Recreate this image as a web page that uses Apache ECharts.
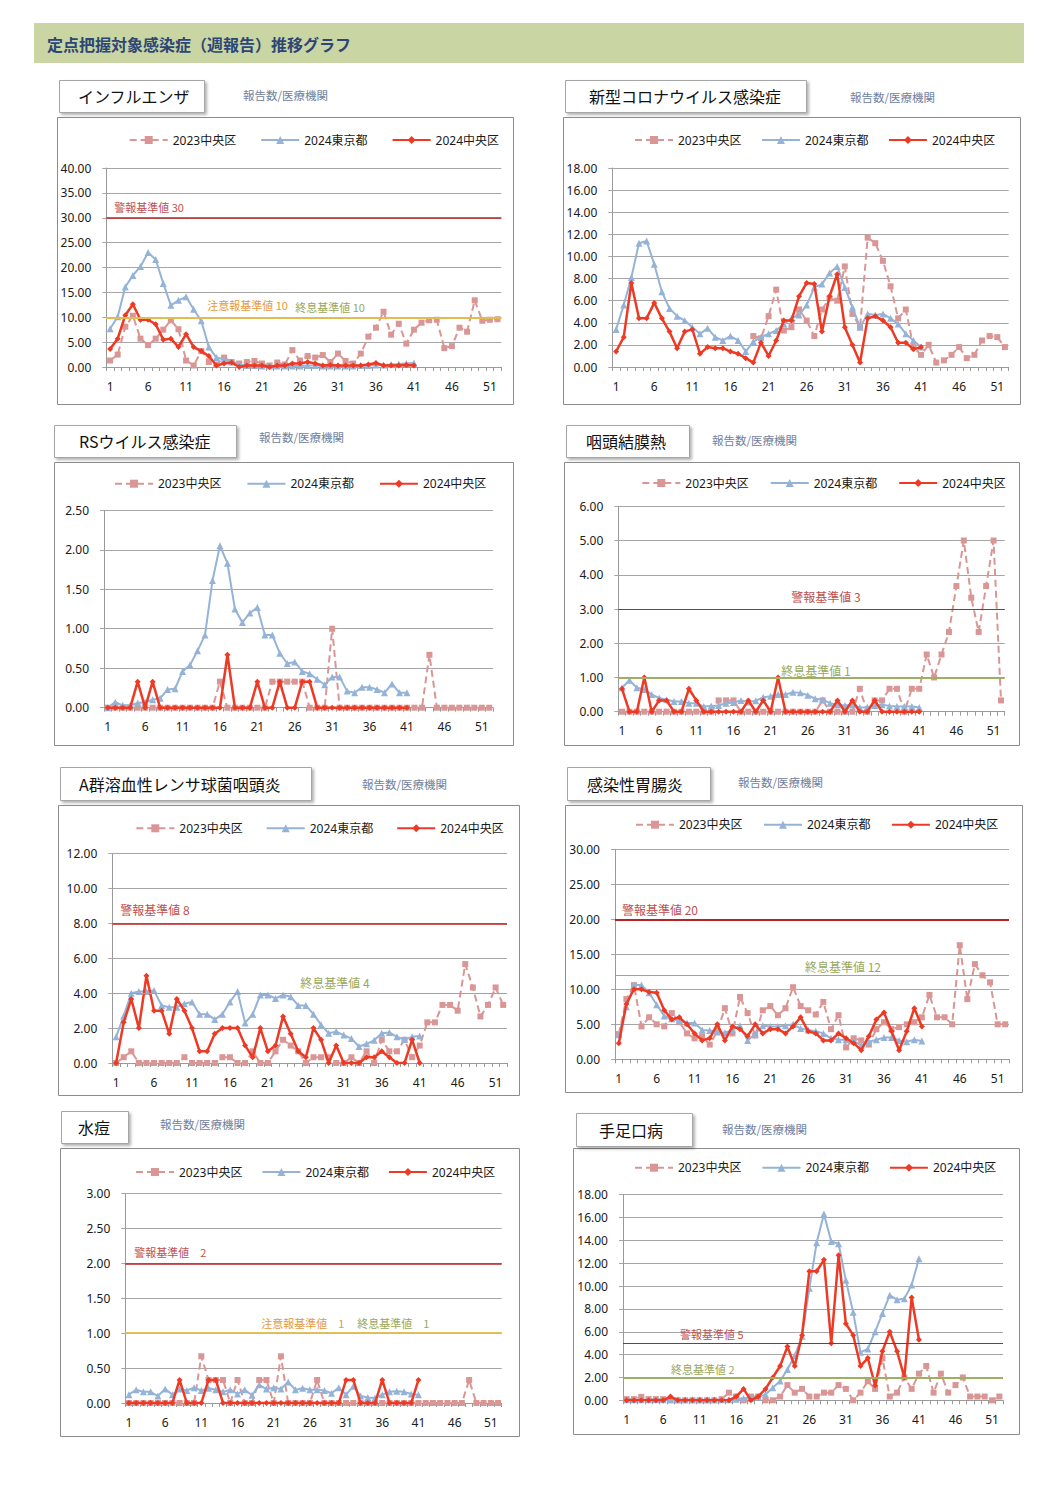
<!DOCTYPE html>
<html><head><meta charset="utf-8">
<script src="https://cdn.jsdelivr.net/npm/echarts@6/dist/echarts.min.js"></script>
<style>html,body{margin:0;padding:0;background:#fff;}#c{width:1063px;height:1498px;}</style>
</head><body><div id="c"></div>
<script>
// ---------------- DATA ----------------
const weeks = ['1','2','3','4','5','6','7','8','9','10','11','12','13','14','15','16','17','18','19','20','21','22','23','24','25','26','27','28','29','30','31','32','33','34','35','36','37','38','39','40','41','42','43','44','45','46','47','48','49','50','51','52'];
const seriesNames = ['2023中央区','2024東京都','2024中央区'];
const pageTitle = '定点把握対象感染症（週報告）推移グラフ';
const unitText = '報告数/医療機関';

// インフルエンザ
const flu2023 = [1.3,2.5,8.1,10.3,5.7,4.4,5.7,7.5,9.4,7.6,1.3,0.3,3.2,1.0,0.5,1.9,1.0,0.7,1.0,1.2,0.7,0.3,0.9,0.5,3.4,1.3,2.2,1.9,2.4,1.0,2.7,1.2,0.7,2.7,6.1,7.9,11.1,6.5,8.7,4.7,7.5,8.9,9.4,9.5,3.8,4.2,7.9,7.1,13.4,9.3,9.5,9.6];
const flu2024Tokyo = [7.7,10.1,16.1,18.4,20.2,23.0,21.6,16.8,12.4,13.4,14.1,11.6,9.3,4.0,1.9,1.5,1.0,0.5,0.3,0.3,0.2,0.2,0.2,0.2,0.2,0.2,0.3,0.3,0.2,0.2,0.2,0.2,0.2,0.3,0.3,0.4,0.4,0.5,0.6,0.7,0.8];
const flu2024Chuo = [3.6,5.7,10.4,12.6,9.5,9.5,8.6,5.5,5.7,4.0,6.6,4.0,3.2,2.2,0.3,0.7,0.9,0.0,0.3,0.3,0.3,0.0,0.3,0.3,0.7,0.7,1.0,0.7,0.3,0.4,0.3,0.3,0.3,0.3,0.5,0.8,0.3,0.3,0.3,0.4,0.3];
const fluTicks = [0,5,10,15,20,25,30,35,40];
const fluLines = [{kind:'alarm',text:'警報基準値 30',value:30},{kind:'caution',text:'注意報基準値 10',value:10},{kind:'end',text:'終息基準値 10',value:10}];

// 新型コロナウイルス感染症
const cov2023 = [null,null,null,null,null,null,null,null,null,null,null,null,null,null,null,null,null,null,2.8,2.6,4.6,7.0,3.3,3.6,5.2,4.2,2.8,5.2,6.2,6.0,9.1,4.8,3.6,11.7,11.2,9.6,7.3,4.4,5.2,1.8,1.1,2.0,0.4,0.6,1.1,1.8,0.8,1.1,2.4,2.8,2.7,1.8];
const cov2024Tokyo = [3.4,5.6,8.1,11.2,11.4,9.3,6.8,5.3,4.6,4.2,3.6,3.0,3.5,2.7,2.4,2.8,2.4,1.4,2.3,2.7,3.0,3.3,3.9,4.4,4.7,5.6,7.2,7.5,8.5,9.1,7.2,5.4,3.6,4.8,4.7,4.8,4.4,3.9,3.0,2.4,1.8];
const cov2024Chuo = [1.4,2.7,7.6,4.4,4.4,5.8,4.4,3.2,1.7,3.2,3.4,1.2,1.8,1.7,1.7,1.4,1.2,0.8,0.4,2.2,1.0,2.4,4.2,4.2,6.4,7.6,7.5,3.2,6.4,8.4,3.6,2.0,0.4,4.4,4.6,4.2,3.6,2.2,2.2,1.6,1.8];
const covTicks = [0,2,4,6,8,10,12,14,16,18];
const covLines = [];

// RSウイルス感染症
const rs2023 = [0,0,0,0,0,0,0,0,0,0,0,0,0,0,0,0.33,0,0,0,0,0,0,0.33,0.33,0.33,0.33,0.33,0,0,0,1.0,0,0,0,0,0,0,0,0,0,0,0,0,0.67,0,0,0,0,0,0,0,0];
const rs2024Tokyo = [0.0,0.07,0.03,0.03,0.06,0.07,0.1,0.12,0.23,0.24,0.46,0.54,0.72,0.92,1.61,2.05,1.83,1.25,1.08,1.2,1.27,0.92,0.92,0.69,0.56,0.58,0.46,0.43,0.36,0.29,0.39,0.39,0.21,0.19,0.26,0.26,0.23,0.19,0.3,0.19,0.19];
const rs2024Chuo = [0,0,0,0,0.33,0,0.33,0,0,0,0,0,0,0,0,0,0.67,0,0,0,0.33,0,0,0.33,0,0,0.33,0.33,0,0,0,0,0,0,0,0,0,0,0,0,0];
const rsTicks = [0,0.5,1,1.5,2,2.5];
const rsLines = [];

// 咽頭結膜熱
const pcf2023 = [0,0,0,0,0,0,0,0,0,0,0,0,0,0.33,0.33,0.33,0,0,0,0,0,0,0,0,0,0,0,0.33,0,0,0,0,0.67,0,0.33,0.33,0.67,0.67,0,0.67,0.67,1.67,1.0,1.67,2.33,3.67,5.0,3.33,2.33,3.67,5.0,0.33];
const pcf2024Tokyo = [0.7,0.92,0.7,0.65,0.5,0.4,0.35,0.3,0.3,0.25,0.25,0.15,0.17,0.18,0.25,0.27,0.33,0.28,0.32,0.42,0.45,0.5,0.5,0.57,0.55,0.48,0.38,0.35,0.25,0.2,0.18,0.2,0.12,0.13,0.18,0.2,0.17,0.15,0.15,0.15,0.12];
const pcf2024Chuo = [0.67,0,0,1.0,0,0.33,0.33,0,0,0.67,0.33,0,0,0,0,0,0,0.33,0,0.33,0,1.0,0,0,0,0,0,0,0,0.33,0,0.33,0,0,0.33,0,0,0,0,0,0];
const pcfTicks = [0,1,2,3,4,5,6];
const pcfLines = [{kind:'alarm',text:'警報基準値 3',value:3},{kind:'end',text:'終息基準値 1',value:1}];

// A群溶血性レンサ球菌咽頭炎
const gas2023 = [0,0.33,0.67,0,0,0,0,0,0,0.33,0,0,0,0,0.33,0.33,0,0,0.67,0,0,0.67,1.33,1.0,0.67,0,0.33,0.33,0.33,0,0,0.33,0,0.67,0,1.33,0.67,0.67,1.33,0.33,1.0,2.33,2.33,3.33,3.33,3.0,5.67,4.33,2.67,3.33,4.33,3.33];
const gas2024Tokyo = [1.5,2.7,4.0,4.1,4.1,4.15,3.3,3.2,3.2,3.4,3.5,2.8,2.8,2.5,2.8,3.5,4.1,2.3,2.8,3.9,3.9,3.7,3.9,3.8,3.3,3.3,2.8,2.2,1.7,1.8,1.6,1.4,0.95,1.1,1.3,1.7,1.75,1.5,1.35,1.5,1.55];
const gas2024Chuo = [0,2.33,3.67,2.0,5.0,3.0,3.0,1.67,3.67,3.0,2.0,0.67,0.67,1.67,2.0,2.0,2.0,1.0,0.33,2.0,0.67,1.0,2.67,1.67,0.67,0.33,2.0,1.33,0,1.0,0,0,0,0.33,0.33,0.67,0.33,0,0,1.33,0];
const gasTicks = [0,2,4,6,8,10,12];
const gasLines = [{kind:'alarm',text:'警報基準値 8',value:8},{kind:'end',text:'終息基準値 4',value:4}];

// 感染性胃腸炎
const ge2023 = [3.6,8.6,10.6,4.7,6.0,5.0,4.7,6.6,5.3,3.7,3.0,3.3,2.1,4.0,7.3,3.7,8.9,6.6,3.4,7.0,7.6,6.3,7.3,10.3,7.6,7.0,6.4,8.2,4.3,6.3,1.7,3.0,2.7,2.1,4.3,5.3,4.3,4.6,5.0,5.3,6.0,9.2,6.0,6.0,5.0,16.3,8.6,13.6,12.0,11.0,5.0,5.0];
const ge2024Tokyo = [3.5,7.5,10.6,10.6,9.5,7.8,6.2,5.8,5.5,5.2,5.2,4.2,4.1,3.9,3.8,4.2,4.8,2.7,3.6,4.8,4.7,4.7,4.8,5.0,4.4,4.2,4.0,3.7,3.0,2.8,2.8,2.6,2.0,2.5,2.8,3.1,3.1,2.7,2.5,2.8,2.6];
const ge2024Chuo = [2.3,7.9,10.0,10.0,9.6,9.5,7.0,5.7,6.0,5.0,3.7,2.7,3.0,5.0,2.7,4.7,4.3,3.3,5.0,3.7,4.3,4.3,3.7,4.7,6.0,4.0,3.7,2.7,2.7,3.7,3.0,2.3,1.3,3.3,5.7,6.7,4.0,1.3,4.0,7.3,4.7];
const geTicks = [0,5,10,15,20,25,30];
const geLines = [{kind:'alarm',text:'警報基準値 20',value:20},{kind:'end',text:'終息基準値 12',value:12}];

// 水痘
const vz2023 = [0,0,0,0,0,0,0,0,0,0,0.67,0.33,0.33,0.33,0,0.33,0,0,0.33,0.33,0,0.67,0,0,0,0,0.33,0,0,0,0,0,0,0,0,0,0,0,0,0,0,0,0,0,0,0,0,0.33,0,0,0,0];
const vz2024Tokyo = [0.12,0.19,0.16,0.16,0.1,0.2,0.12,0.2,0.18,0.22,0.18,0.21,0.19,0.16,0.19,0.13,0.19,0.11,0.26,0.2,0.22,0.2,0.3,0.19,0.21,0.19,0.19,0.18,0.14,0.22,0.12,0.24,0.1,0.08,0.07,0.12,0.16,0.17,0.16,0.13,0.12];
const vz2024Chuo = [0,0,0,0,0,0,0,0.33,0,0,0,0.33,0.33,0,0,0,0,0,0,0,0,0,0,0,0,0,0,0,0,0,0.33,0.33,0,0,0,0.33,0,0,0,0,0.33];
const vzTicks = [0,0.5,1,1.5,2,2.5,3];
const vzLines = [{kind:'alarm',text:'警報基準値　2',value:2},{kind:'caution',text:'注意報基準値　1',value:1},{kind:'end',text:'終息基準値　1',value:1}];

// 手足口病
const hf2023 = [0.1,0.1,0.3,0.1,0.1,0.1,0,0,0,0,0,0,0,0.1,0.67,0.33,0,0.33,0.33,0,0,0.33,1.33,0.67,1.0,0.33,0.33,0.67,0.67,1.33,1.0,0,0.67,1.67,1.0,3.67,0.33,0.67,2.0,1.0,2.33,3.0,0.67,2.33,0.67,1.33,2.0,0.33,0.33,0.33,0,0.33];
const hf2024Tokyo = [0.05,0.05,0.05,0.05,0.05,0.05,0.05,0.05,0.05,0.05,0.05,0.05,0.05,0.05,0.05,0.1,0.15,0.2,0.3,0.5,1.1,1.7,2.7,3.9,5.6,9.8,13.8,16.3,13.9,13.7,10.5,7.7,4.2,4.5,6.0,7.6,9.2,8.8,8.9,10.1,12.4];
const hf2024Chuo = [0,0,0,0,0,0,0.33,0,0,0,0,0,0,0,0,0.33,1.0,0,0.33,1.0,2.0,3.0,4.7,3.0,5.7,11.3,11.3,12.3,5.0,12.7,6.7,5.7,3.0,3.7,1.3,4.3,6.0,4.3,2.0,9.0,5.3];
const hfTicks = [0,2,4,6,8,10,12,14,16,18];
const hfLines = [{kind:'alarm',text:'警報基準値 5',value:5},{kind:'end',text:'終息基準値 2',value:2}];

const panels = [
  {title:'インフルエンザ', data:[flu2023,flu2024Tokyo,flu2024Chuo], ticks:fluTicks, lines:fluLines},
  {title:'新型コロナウイルス感染症', data:[cov2023,cov2024Tokyo,cov2024Chuo], ticks:covTicks, lines:covLines},
  {title:'RSウイルス感染症', data:[rs2023,rs2024Tokyo,rs2024Chuo], ticks:rsTicks, lines:rsLines},
  {title:'咽頭結膜熱', data:[pcf2023,pcf2024Tokyo,pcf2024Chuo], ticks:pcfTicks, lines:pcfLines},
  {title:'A群溶血性レンサ球菌咽頭炎', data:[gas2023,gas2024Tokyo,gas2024Chuo], ticks:gasTicks, lines:gasLines},
  {title:'感染性胃腸炎', data:[ge2023,ge2024Tokyo,ge2024Chuo], ticks:geTicks, lines:geLines},
  {title:'水痘', data:[vz2023,vz2024Tokyo,vz2024Chuo], ticks:vzTicks, lines:vzLines},
  {title:'手足口病', data:[hf2023,hf2024Tokyo,hf2024Chuo], ticks:hfTicks, lines:hfLines}
];

// ---------------- LAYOUT / STYLE ----------------
const layout = [
  {frame:[57,117,456,287], box:[59,80,145,32], title:[78,96], unit:[243,95], grid:[106.3,168,395,199], legend:[128.7,141,24], lbl:[[8,5],[101,6.5],[189,4.5]], lblSize:11, lw:[1.5,2,2]},
  {frame:[563,117,457,287], box:[565,80,241,32], title:[589,96], unit:[850,97], grid:[612.3,168,396.4,199], legend:[634,141,19.5], lbl:[], lblSize:11, lw:[]},
  {frame:[54,462,459,283], box:[54,425,182,32], title:[79,441], unit:[259,437], grid:[104,510.3,389,197.4], legend:[114,484.7,25], lbl:[], lblSize:11, lw:[]},
  {frame:[564,462,455,283], box:[566,425,123,32], title:[586,441], unit:[712,440], grid:[618.3,506.3,386.4,205.4], legend:[641.3,484,21], lbl:[[173,7],[163,0.5]], lblSize:12, lw:[1.2,2]},
  {frame:[58,805,461,290], box:[60,767,251,33], title:[79,784], unit:[362,784], grid:[112.3,853.7,394.7,209.3], legend:[135.3,829.3,23], lbl:[[8,7.5],[188,5]], lblSize:12, lw:[1.5,1]},
  {frame:[565,805,457,287], box:[567,767,143,33], title:[587,784], unit:[738,782], grid:[615,849.3,394,210], legend:[635,825.7,20.5], lbl:[[7,4],[190,3]], lblSize:12, lw:[2,1]},
  {frame:[60,1148,459,288], box:[61,1111,67,32], title:[78,1127], unit:[160,1124], grid:[125.3,1193.7,376.4,209.3], legend:[135,1173,19], lbl:[[9,6],[136,4.5],[232,4.5]], lblSize:11, lw:[1.5,1.5,1.5]},
  {frame:[573,1148,446,286], box:[576,1113,116,33], title:[599,1130], unit:[722,1129], grid:[623,1194.7,380,205.6], legend:[634,1168.7,20], lbl:[[57,3.5],[48,2.5]], lblSize:11, lw:[1.2,2]}
];
const kindStyle = {
  alarm:   {line:'#B82424', text:'#C0504D'},
  caution: {line:'#E2BC50', text:'#E49A3A'},
  end:     {line:'#9DB062', text:'#98A85C'}
};
const seriesStyle = [
  {color:'#D99694', width:2, type:[7,4], symbol:'rect', size:6, z:2},
  {color:'#95B3D7', width:2, type:'solid', symbol:'triangle', size:7, z:3},
  {color:'#EE3A24', width:2.5, type:'solid', symbol:'diamond', size:6, z:4}
];
const FONT = "'Noto Sans', 'Noto Sans CJK JP', sans-serif";
const JFONT = "'Noto Sans CJK JP', sans-serif";

const graphic = [
  {type:'rect', shape:{x:34,y:23,width:990,height:40}, style:{fill:'#C9D5A3'}},
  {type:'text', x:47, y:44, style:{text:pageTitle, fontSize:16, fontWeight:'bold', fontFamily:JFONT, fill:'#2C4676', verticalAlign:'middle'}}
];
const grid = [], xAxis = [], yAxis = [], legend = [], series = [];

panels.forEach((p, i) => {
  const L = layout[i];
  graphic.push({type:'rect', z:-1, shape:{x:L.frame[0]+0.5,y:L.frame[1]+0.5,width:L.frame[2],height:L.frame[3]}, style:{fill:'none', stroke:'#8C8C8C', lineWidth:1}});
  graphic.push({type:'rect', shape:{x:L.box[0]+0.5,y:L.box[1]+0.5,width:L.box[2],height:L.box[3]}, style:{fill:'#fff', stroke:'#A6A6A6', lineWidth:1, shadowBlur:3, shadowOffsetX:2, shadowOffsetY:2, shadowColor:'rgba(0,0,0,0.3)'}});
  graphic.push({type:'text', x:L.title[0], y:L.title[1], style:{text:p.title, fontSize:16, fontFamily:JFONT, fill:'#111', verticalAlign:'middle'}});
  graphic.push({type:'text', x:L.unit[0], y:L.unit[1], style:{text:unitText, fontSize:11.5, fontFamily:JFONT, fill:'#70819E', verticalAlign:'middle'}});

  grid.push({left:L.grid[0], top:L.grid[1], width:L.grid[2], height:L.grid[3], containLabel:false, outerBoundsMode:'none'});
  xAxis.push({type:'category', gridIndex:i, data:weeks, boundaryGap:true,
    axisLine:{show:true, lineStyle:{color:'#9A9A9A', width:1}},
    axisTick:{show:true, interval:0, length:4, lineStyle:{color:'#9A9A9A'}},
    axisLabel:{interval:4, margin:13, fontSize:12, color:'#1a1a1a', fontFamily:FONT},
    splitLine:{show:false}});
  const t = p.ticks;
  yAxis.push({type:'value', gridIndex:i, min:t[0], max:t[t.length-1], interval:t[1]-t[0],
    axisLine:{show:true, lineStyle:{color:'#9A9A9A'}},
    axisTick:{show:true, length:4, lineStyle:{color:'#A6A6A6'}},
    axisLabel:{margin:15, fontSize:12, color:'#1a1a1a', fontFamily:FONT, formatter:v => v.toFixed(2)},
    splitLine:{show:true, lineStyle:{color:'#A6A6A6', width:1}}});
  legend.push({left:L.legend[0], top:L.legend[1]-7, padding:0, itemWidth:38, itemHeight:10, itemGap:L.legend[2], selectedMode:false,
    textStyle:{fontSize:12, color:'#1a1a1a', fontFamily:FONT}, data:seriesNames});

  const cautionValues = p.lines.filter(l => l.kind === 'caution').map(l => l.value);
  p.data.forEach((d, k) => {
    const s = seriesStyle[k];
    const ser = {type:'line', name:seriesNames[k], xAxisIndex:i, yAxisIndex:i, data:d, z:s.z,
      symbol:s.symbol, symbolSize:s.size, showSymbol:true, showAllSymbol:true, connectNulls:false, animation:false,
      itemStyle:{color:s.color}, lineStyle:{color:s.color, width:s.width, type:s.type},
      emphasis:{disabled:true}, silent:true};
    if (k === 0 && p.lines.length) {
      ser.markLine = {silent:true, symbol:['none','none'], animation:false,
        data: p.lines.map((ln, j) => {
          const shared = ln.kind === 'end' && cautionValues.indexOf(ln.value) >= 0;
          return {yAxis:ln.value,
            lineStyle:{color: shared ? kindStyle.caution.line : kindStyle[ln.kind].line, width:L.lw[j], type:'solid'},
            label:{show:true, position:'insideStartTop', distance:L.lbl[j], formatter:ln.text,
              color:kindStyle[ln.kind].text, fontSize:L.lblSize, fontFamily:JFONT}};
        })};
    }
    series.push(ser);
  });
});

const chart = echarts.init(document.getElementById('c'), null, {renderer:'svg', width:1063, height:1498});
chart.setOption({animation:false, backgroundColor:'#fff', graphic, grid, xAxis, yAxis, legend, series});
</script></body></html>
